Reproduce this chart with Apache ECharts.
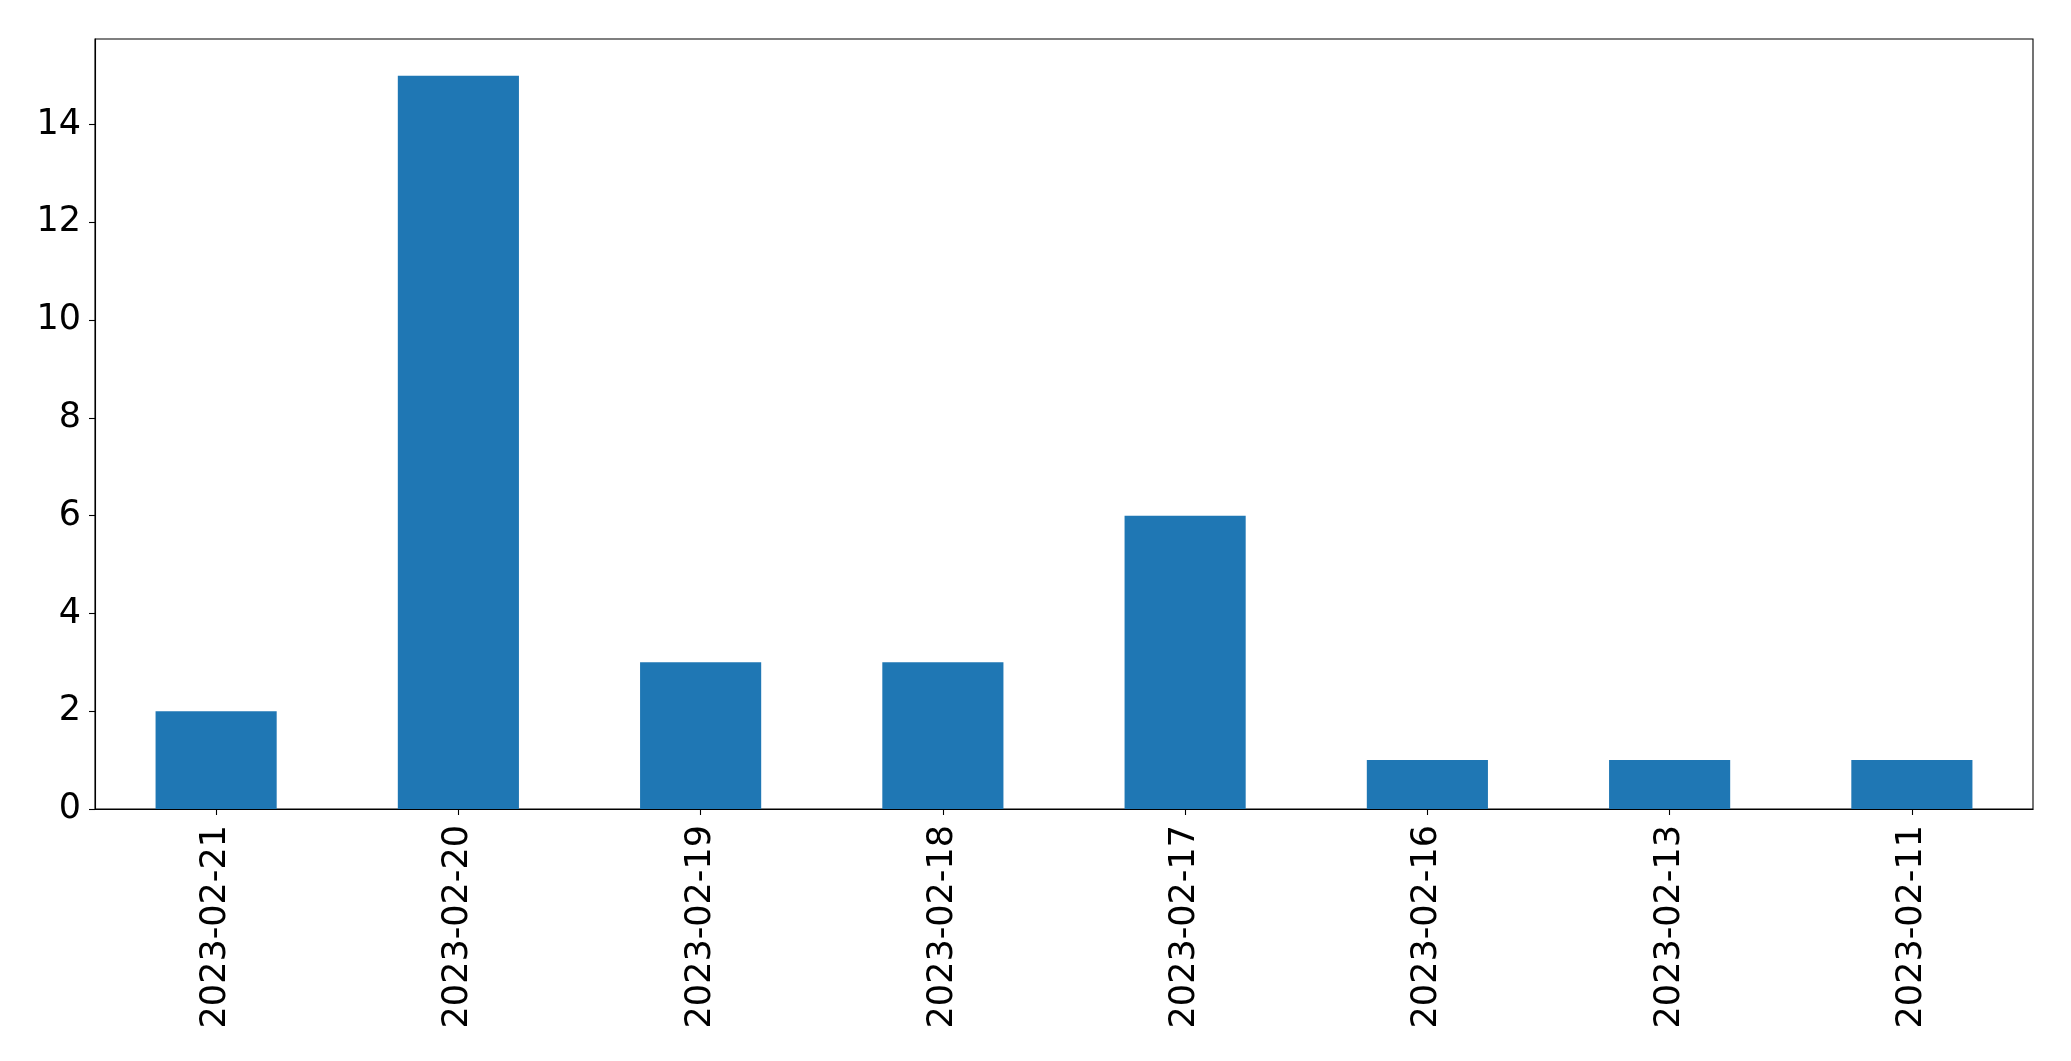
<!DOCTYPE html>
<html>
<head>
<meta charset="utf-8">
<script src="https://cdn.jsdelivr.net/npm/echarts@6/dist/echarts.min.js"></script>
<style>
html,body{margin:0;padding:0;background:#fff;}
#chart{width:2071px;height:1061px;}
</style>
</head>
<body>
<div id="chart"></div>
<script>
const categories = ["2023-02-21","2023-02-20","2023-02-19","2023-02-18","2023-02-17","2023-02-16","2023-02-13","2023-02-11"];
const values = [2, 15, 3, 3, 6, 1, 1, 1];
const yTicks = [0, 2, 4, 6, 8, 10, 12, 14];

const chart = echarts.init(document.getElementById('chart'), null, {renderer: 'canvas'});
const font = 'DejaVu Sans';
chart.setOption({
  animation: false,
  backgroundColor: '#ffffff',
  grid: {
    left: 95, top: 39, right: 38, bottom: 252,
    show: true, borderColor: '#000', borderWidth: 1.1, backgroundColor: 'transparent'
  },
  xAxis: {
    type: 'category',
    data: categories,
    boundaryGap: true,
    axisLine: {show: true, lineStyle: {color: '#000', width: 1.1}},
    axisTick: {show: true, alignWithLabel: true, length: 6, lineStyle: {color: '#000', width: 1.1}},
    axisLabel: {rotate: 90, margin: 16, color: '#000', fontFamily: font, fontSize: 35, interval: 0},
    splitLine: {show: false}
  },
  yAxis: {
    type: 'value',
    min: 0,
    max: 15.75,
    interval: 2,
    axisLine: {show: true, lineStyle: {color: '#000', width: 1.1}},
    axisTick: {show: true, length: 6, lineStyle: {color: '#000', width: 1.1}},
    axisLabel: {
      color: '#000', fontFamily: font, fontSize: 35, margin: 14,
      showMaxLabel: false,
      formatter: function (v) { return yTicks.indexOf(v) >= 0 ? String(v) : ''; }
    },
    splitLine: {show: false}
  },
  series: [{
    type: 'bar',
    data: values,
    barWidth: '50%',
    itemStyle: {color: '#1f77b4'}
  }]
});
</script>
</body>
</html>
